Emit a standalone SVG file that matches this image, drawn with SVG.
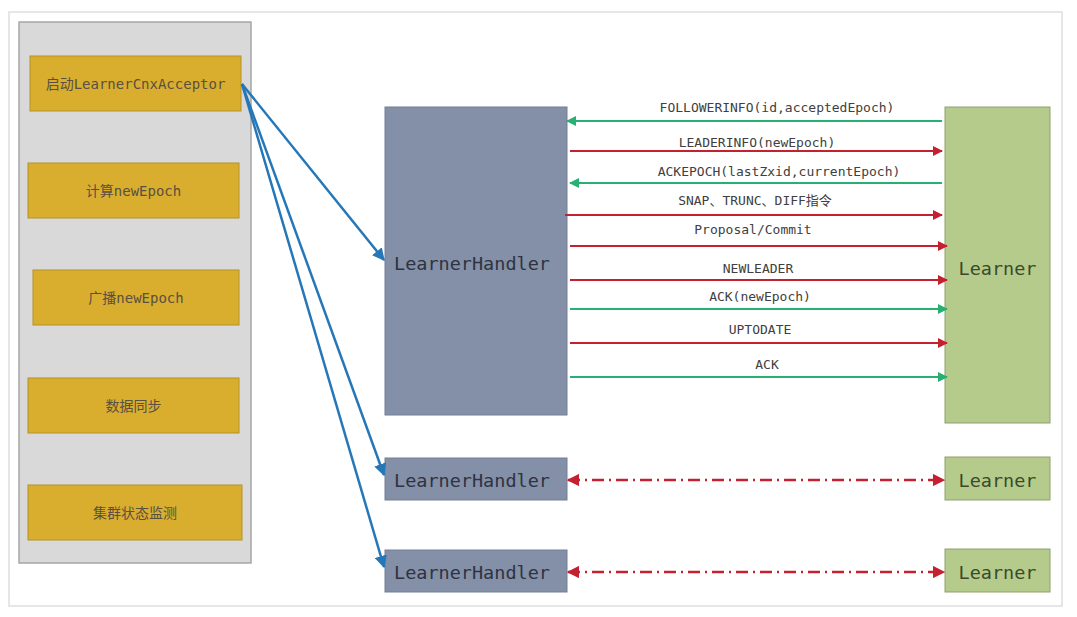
<svg xmlns="http://www.w3.org/2000/svg" width="1077" height="617" viewBox="0 0 1077 617">
<style>
.frame{fill:#ffffff;stroke:#e6e6e6;stroke-width:2}
.panel{fill:#d9d9d9;stroke:#a6a6a6;stroke-width:1.5}
.step{fill:#d9ae2f;stroke:#b59227;stroke-width:1}
.steptxt{font-family:"DejaVu Sans Mono","Noto Sans CJK SC",monospace;font-size:14px;fill:#5a5040;text-anchor:middle;dominant-baseline:central}
.lh{fill:#8490a8;stroke:#737e96;stroke-width:1}
.ln{fill:#b5cb8c;stroke:#8f9f70;stroke-width:1}
.big{font-family:"DejaVu Sans Mono",monospace;font-size:18.5px;fill:#2e3340;dominant-baseline:central}
.lnt{font-family:"DejaVu Sans Mono",monospace;font-size:18.5px;fill:#3a4a2a;text-anchor:middle;dominant-baseline:central}
.msg{font-family:"DejaVu Sans Mono","Noto Sans CJK SC",monospace;font-size:13px;fill:#404040;text-anchor:middle}
.g{stroke:#27b071;stroke-width:2;fill:none}
.r{stroke:#c42030;stroke-width:2;fill:none}
.b{stroke:#2677b8;stroke-width:2.5;fill:none}
.d{stroke:#c42030;stroke-width:2.5;fill:none;stroke-dasharray:12 5 2 5}
</style>
<defs>
<marker id="ag" viewBox="0 0 10 10" refX="9" refY="5" markerWidth="5" markerHeight="5" orient="auto-start-reverse"><path d="M0,0 L10,5 L0,10 z" fill="#27b071"/></marker>
<marker id="ar" viewBox="0 0 10 10" refX="9" refY="5" markerWidth="5" markerHeight="5" orient="auto-start-reverse"><path d="M0,0 L10,5 L0,10 z" fill="#c42030"/></marker>
<marker id="ab" viewBox="0 0 10 10" refX="9" refY="5" markerWidth="5" markerHeight="5" orient="auto-start-reverse"><path d="M0,0 L10,5 L0,10 z" fill="#2677b8"/></marker>
</defs>
<rect x="0" y="0" width="1077" height="617" fill="#ffffff"/>
<rect class="frame" x="9" y="12" width="1053" height="594"/>
<g id="panel">
<rect class="panel" x="19" y="22" width="232" height="541"/>
</g>
<g id="step1"><rect class="step" x="30" y="56" width="211" height="55"/><text class="steptxt" x="135.5" y="83.5">启动LearnerCnxAcceptor</text></g>
<g id="step2"><rect class="step" x="28" y="163" width="211" height="55"/><text class="steptxt" x="133.5" y="190.5">计算newEpoch</text></g>
<g id="step3"><rect class="step" x="33" y="270" width="206" height="55"/><text class="steptxt" x="136" y="297.5">广播newEpoch</text></g>
<g id="step4"><rect class="step" x="28" y="378" width="211" height="55"/><text class="steptxt" x="133.5" y="405.5">数据同步</text></g>
<g id="step5"><rect class="step" x="28" y="485" width="214" height="55"/><text class="steptxt" x="135" y="512.5">集群状态监测</text></g>
<g id="lh1"><rect class="lh" x="385" y="107" width="182" height="308"/><text class="big" x="394" y="263">LearnerHandler</text></g>
<g id="lh2"><rect class="lh" x="385" y="458" width="182" height="42"/><text class="big" x="394" y="480">LearnerHandler</text></g>
<g id="lh3"><rect class="lh" x="385" y="550" width="182" height="42"/><text class="big" x="394" y="572">LearnerHandler</text></g>
<g id="ln1"><rect class="ln" x="945" y="107" width="105" height="316"/><text class="lnt" x="997.5" y="268">Learner</text></g>
<g id="ln2"><rect class="ln" x="945" y="457" width="105" height="43"/><text class="lnt" x="997.5" y="480">Learner</text></g>
<g id="ln3"><rect class="ln" x="945" y="549" width="105" height="43"/><text class="lnt" x="997.5" y="572">Learner</text></g>
<g id="connectors">
<line class="b" x1="242" y1="84" x2="384" y2="260" marker-end="url(#ab)"/>
<line class="b" x1="242" y1="84" x2="384" y2="475" marker-end="url(#ab)"/>
<line class="b" x1="242" y1="84" x2="384" y2="567" marker-end="url(#ab)"/>
<line class="g" x1="942" y1="121" x2="567" y2="121" marker-end="url(#ag)"/>
<line class="r" x1="570" y1="151" x2="942" y2="151" marker-end="url(#ar)"/>
<line class="g" x1="942" y1="183" x2="570" y2="183" marker-end="url(#ag)"/>
<line class="r" x1="565" y1="215" x2="942" y2="215" marker-end="url(#ar)"/>
<line class="r" x1="570" y1="246" x2="947" y2="246" marker-end="url(#ar)"/>
<line class="r" x1="570" y1="280" x2="947" y2="280" marker-end="url(#ar)"/>
<line class="g" x1="570" y1="309" x2="947" y2="309" marker-end="url(#ag)"/>
<line class="r" x1="570" y1="343" x2="947" y2="343" marker-end="url(#ar)"/>
<line class="g" x1="570" y1="377" x2="947" y2="377" marker-end="url(#ag)"/>
<line class="d" x1="568" y1="480" x2="944" y2="480" marker-start="url(#ar)" marker-end="url(#ar)"/>
<line class="d" x1="568" y1="572" x2="944" y2="572" marker-start="url(#ar)" marker-end="url(#ar)"/>
<text class="msg" x="777" y="112">FOLLOWERINFO(id,acceptedEpoch)</text>
<text class="msg" x="757" y="147">LEADERINFO(newEpoch)</text>
<text class="msg" x="779" y="176">ACKEPOCH(lastZxid,currentEpoch)</text>
<text class="msg" x="755" y="205">SNAP、TRUNC、DIFF指令</text>
<text class="msg" x="753" y="234">Proposal/Commit</text>
<text class="msg" x="758" y="273">NEWLEADER</text>
<text class="msg" x="760" y="301">ACK(newEpoch)</text>
<text class="msg" x="760" y="334">UPTODATE</text>
<text class="msg" x="767" y="369">ACK</text>
</g>
</svg>
